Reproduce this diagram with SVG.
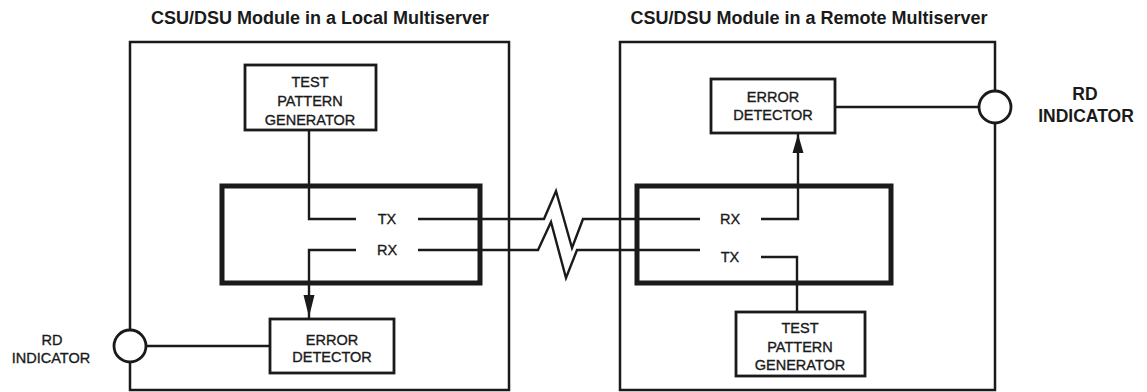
<svg xmlns="http://www.w3.org/2000/svg" width="1147" height="392" viewBox="0 0 1147 392">
<style>
.title{font-family:"Liberation Sans",Arial,sans-serif;font-weight:bold;font-size:18px;fill:#1a1a1a;text-anchor:middle}
.lbl{font-family:"Liberation Sans",Arial,sans-serif;font-size:14.5px;fill:#1a1a1a;stroke:#1a1a1a;stroke-width:0.35;text-anchor:middle}
.rdb{font-family:"Liberation Sans",Arial,sans-serif;font-weight:bold;font-size:17.5px;fill:#1a1a1a;text-anchor:middle}
.outer{fill:none;stroke:#1a1a1a;stroke-width:2.5}
.inner{fill:none;stroke:#1a1a1a;stroke-width:5}
.node{fill:#fff;stroke:#1a1a1a;stroke-width:2.8}
.ind{fill:#fff;stroke:#1a1a1a;stroke-width:2.8}
.wire{fill:none;stroke:#1a1a1a;stroke-width:2.4;stroke-linejoin:miter}
.arrow{fill:#1a1a1a;stroke:none}
</style>
<rect width="1147" height="392" fill="#fff"/>

<text class="title" x="320" y="24">CSU/DSU Module in a Local Multiserver</text>
<text class="title" x="809" y="24">CSU/DSU Module in a Remote Multiserver</text>

<g id="local-module">
  <path class="outer" d="M130,330 V42 H509 V390 H130 V362"/>
  <rect class="inner" x="222" y="186" width="258" height="97"/>
</g>
<g id="remote-module">
  <path class="outer" d="M995,91 V42 H620 V390 H995 V123"/>
  <rect class="inner" x="637" y="186" width="254" height="97"/>
</g>

<g id="connectors">
  <path class="wire" d="M309,130 V219 H356"/>
  <path class="wire" d="M356,250 H309 V319"/>
  <polygon class="arrow" points="303.5,295 314.5,295 309,317"/>
  <path class="wire" d="M146,346 H270"/>
  <path class="wire" d="M418,219 H544 L556,191 L572,248 L583,219 H700"/>
  <path class="wire" d="M418,250 H538 L551,222 L566,278 L577,250 H700"/>
  <path class="wire" d="M761,219 H798 V134"/>
  <polygon class="arrow" points="792.5,153 803.5,153 798,134"/>
  <path class="wire" d="M761,257 H797 V312"/>
  <path class="wire" d="M835,107 H979"/>
</g>

<g id="local-tx-label"><text class="lbl" x="387" y="224">TX</text></g>
<g id="local-rx-label"><text class="lbl" x="387" y="255">RX</text></g>
<g id="remote-rx-label"><text class="lbl" x="730" y="224">RX</text></g>
<g id="remote-tx-label"><text class="lbl" x="730" y="262">TX</text></g>

<g id="local-test-pattern-generator">
  <rect class="node" x="245" y="65" width="131" height="65"/>
  <text class="lbl" x="310" y="87">TEST</text>
  <text class="lbl" x="310" y="106">PATTERN</text>
  <text class="lbl" x="310" y="125">GENERATOR</text>
</g>
<g id="local-error-detector">
  <rect class="node" x="270" y="319" width="124" height="54"/>
  <text class="lbl" x="332" y="345">ERROR</text>
  <text class="lbl" x="332" y="362">DETECTOR</text>
</g>
<g id="local-rd-indicator">
  <circle class="ind" cx="130" cy="346" r="16"/>
  <text class="lbl" x="52" y="345">RD</text>
  <text class="lbl" x="51" y="363">INDICATOR</text>
</g>

<g id="remote-error-detector">
  <rect class="node" x="711" y="79" width="124" height="54"/>
  <text class="lbl" x="773" y="102">ERROR</text>
  <text class="lbl" x="773" y="120">DETECTOR</text>
</g>
<g id="remote-test-pattern-generator">
  <rect class="node" x="736" y="312" width="129" height="64"/>
  <text class="lbl" x="800" y="333">TEST</text>
  <text class="lbl" x="800" y="352">PATTERN</text>
  <text class="lbl" x="800" y="370">GENERATOR</text>
</g>
<g id="remote-rd-indicator">
  <circle class="ind" cx="995" cy="107" r="16"/>
  <text class="rdb" x="1085" y="100">RD</text>
  <text class="rdb" x="1086" y="122">INDICATOR</text>
</g>
</svg>
